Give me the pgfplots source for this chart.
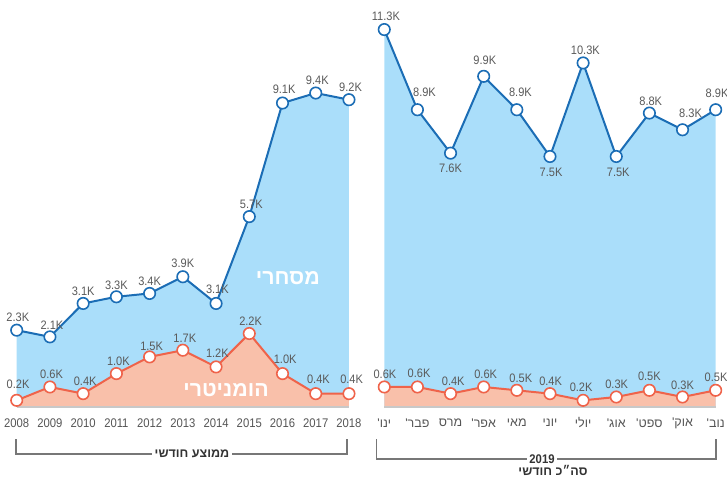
\documentclass[border=0pt]{standalone}
\usepackage{pgfplots}
\pgfplotsset{compat=1.18}
\usepackage{pgfplotstable}
\usepackage{fontspec}
\setmainfont{Liberation Sans}[FakeStretch=0.9]
\newfontfamily\hebfont[Script=Hebrew]{Liberation Sans}
\TeXXeTstate=1
\definecolor{bline}{HTML}{1B6DB5}
\definecolor{bfill}{HTML}{AADEFA}
\definecolor{oline}{HTML}{EF634A}
\definecolor{ofill}{HTML}{F9C0AA}
\definecolor{lgray}{HTML}{5A5A5A}
\definecolor{tgray}{HTML}{555555}
\definecolor{dgray}{HTML}{333333}
\definecolor{basegray}{HTML}{C8C8C8}

% x value dx(pt) dy(pt)
\pgfplotstableread{
x y dx dy
0 2.3 0.8 10
1 2.1 1.5 9
2 3.1 0 9
3 3.3 0 9
4 3.4 0 9
5 3.9 0 10
6 3.1 1 10.5
7 5.7 1.5 9
8 9.1 1.2 10.5
9 9.4 1.2 9.75
10 9.2 1.2 9
}\leftcom
\pgfplotstableread{
x y dx dy
0 0.2 1 12
1 0.6 1.2 9.75
2 0.4 1.5 9
3 1.0 1.5 9
4 1.5 1.5 8.25
5 1.7 1.5 9
6 1.2 1 10.5
7 2.2 1 9
8 1.0 2 11
9 0.4 2 10.5
10 0.4 2 10.5
}\lefthum
\pgfplotstableread{
x y dx dy
0 11.3 1.2 9.75
1 8.9 5.3 12.75
2 7.6 0 -11.25
3 9.9 0.8 12
4 8.9 2.7 12.75
5 7.5 0.8 -12
6 10.3 1.7 9.75
7 7.5 1.5 -12
8 8.8 1 9
9 8.3 6 12
10 8.9 1 12
}\rightcom
\pgfplotstableread{
x y dx dy
0 0.6 0.5 9.75
1 0.6 1.2 10.5
2 0.4 2 9
3 0.6 1.5 9.75
4 0.5 3 9
5 0.4 0.5 9
6 0.2 -1.5 9.75
7 0.3 0.3 9.75
8 0.5 0 10.5
9 0.3 0 9
10 0.5 0.3 9.75
}\righthum

\pgfplotsset{
  mychart/.style={
    scale only axis, height=288.1pt,
    xmin=0, xmax=10, ymin=0, ymax=11.5,
    clip=false, enlargelimits=false,
    axis line style={draw=none}, major tick length=0pt,
    ytick=\empty, xtick={0,...,10},
    xticklabel style={font=\fontsize{9.4pt}{11pt}\selectfont, text=tgray, anchor=center, yshift=-12pt},
    /pgf/number format/assume math mode=true,
  },
  fillb/.style={draw=none, fill=bfill, forget plot},
  fillo/.style={draw=none, fill=ofill, forget plot},
  labelled/.style={
    point meta=y,
    nodes near coords={\pgfmathprintnumber[fixed,fixed zerofill,precision=1]{\pgfplotspointmeta}K},
    visualization depends on={\thisrow{dx} \as \dx},
    visualization depends on={\thisrow{dy} \as \dy},
    every node near coord/.append style={anchor=center, xshift=\dx pt, yshift=\dy pt,
      font=\fontsize{9.2pt}{11pt}\selectfont, text=lgray, inner sep=0pt},
  },
  lineb/.style={labelled, bline, line width=1.5pt, mark=*, mark size=4.3pt,
    mark options={fill=white, draw=bline, line width=1.2pt}},
  lineo/.style={labelled, oline, line width=1.5pt, mark=*, mark size=4.3pt,
    mark options={fill=white, draw=oline, line width=1.2pt}},
}

\begin{document}
\begin{tikzpicture}
\useasboundingbox (0,0) rectangle (545.25pt,-359.25pt);

\begin{axis}[mychart, at={(12.525pt,-305.25pt)}, anchor=south west, width=249.2pt,
  xticklabels={2008,2009,2010,2011,2012,2013,2014,2015,2016,2017,2018}]
  \addplot[fillb] table[x=x,y=y]{\leftcom} \closedcycle;
  \addplot[fillo] table[x=x,y=y]{\lefthum} \closedcycle;
  \draw[basegray, line width=1.5pt] (axis cs:0,0) -- (axis cs:10,0);
  \node[text=white, font=\hebfont\bfseries\fontsize{16pt}{18pt}\selectfont] at (axis cs:8.16,3.86) {\beginR מסחרי\endR};
  \node[text=white, font=\hebfont\bfseries\fontsize{16pt}{18pt}\selectfont] at (axis cs:6.3,0.51) {\beginR הומניטרי\endR};
  \addplot[lineb] table[x=x,y=y]{\leftcom};
  \addplot[lineo] table[x=x,y=y]{\lefthum};
\end{axis}

\begin{axis}[mychart, at={(288.2pt,-305.25pt)}, anchor=south west, width=248.55pt,
  xticklabels={{\hebfont\beginR ינו'\endR},{\hebfont\beginR פבר'\endR},{\hebfont\beginR מרס\endR},{\hebfont\beginR אפר'\endR},{\hebfont\beginR מאי\endR},{\hebfont\beginR יוני\endR},{\hebfont\beginR יולי\endR},{\hebfont\beginR אוג'\endR},{\hebfont\beginR ספט'\endR},{\hebfont\beginR אוק'\endR},{\hebfont\beginR נוב'\endR}}]
  \addplot[fillb] table[x=x,y=y]{\rightcom} \closedcycle;
  \addplot[fillo] table[x=x,y=y]{\righthum} \closedcycle;
  \draw[basegray, line width=1.5pt] (axis cs:0,0) -- (axis cs:10,0);
  \addplot[lineb] table[x=x,y=y]{\rightcom};
  \addplot[lineo] table[x=x,y=y]{\righthum};
\end{axis}

% brackets
\draw[tgray!80, line width=0.8pt] (12pt,-329.25pt) -- (12pt,-340.5pt) -- (260.25pt,-340.5pt) -- (260.25pt,-329.25pt);
\node[fill=white, inner xsep=2pt, inner ysep=1pt, text=dgray, font=\hebfont\bfseries\fontsize{9.4pt}{11pt}\selectfont] at (144pt,-340.5pt) {\beginR ממוצע חודשי\endR};
\draw[tgray!80, line width=0.8pt] (282.5pt,-329.25pt) -- (282.5pt,-344.25pt) -- (537pt,-344.25pt) -- (537pt,-329.25pt);
\node[fill=white, inner xsep=2pt, inner ysep=0.5pt, text=dgray, font=\bfseries\fontsize{9.4pt}{11pt}\selectfont] at (406.5pt,-344.25pt) {2019};
\node[text=dgray, font=\hebfont\bfseries\fontsize{9.4pt}{11pt}\selectfont] at (414.75pt,-352.5pt) {\beginR סה״כ חודשי\endR};
\end{tikzpicture}
\end{document}
